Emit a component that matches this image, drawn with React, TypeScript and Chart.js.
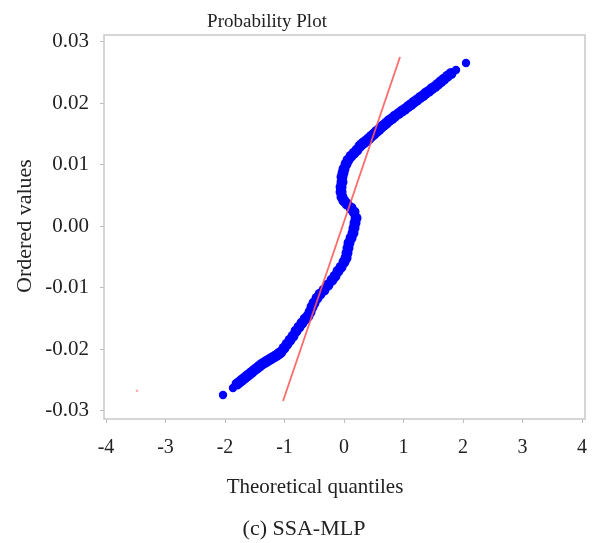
import React, { useEffect, useRef } from "react";
import { Chart, registerables } from "chart.js";

Chart.register(...registerables);

// Ordered values vs theoretical quantiles
const QX = [
  -2.034, -1.866, -1.798, -1.756, -1.714, -1.672, -1.63, -1.588, -1.546,
  -1.504, -1.462, -1.42, -1.378, -1.336, -1.294, -1.252, -1.21, -1.168, -1.126,
  -1.092, -1.059, -1.008, -0.958, -0.908, -0.857, -0.807, -0.756, -0.706, -0.655,
  -0.605, -0.571, -0.538, -0.504, -0.454, -0.403, -0.336, -0.269, -0.202, -0.151,
  -0.101, -0.05, 0.0, 0.034, 0.05, 0.067, 0.084, 0.118, 0.151, 0.168,
  0.185, 0.202, 0.168, 0.118, 0.05, 0.0, -0.034, -0.05, -0.05, -0.034,
  -0.034, -0.017, 0.0, 0.034, 0.067, 0.118, 0.168, 0.218, 0.269, 0.303,
  0.336, 0.378, 0.42, 0.462, 0.504, 0.546, 0.588, 0.63, 0.672, 0.714,
  0.756, 0.807, 0.857, 0.916, 0.975, 1.025, 1.076, 1.126, 1.176, 1.227,
  1.277, 1.328, 1.378, 1.429, 1.479, 1.529, 1.58, 1.63, 1.681, 1.74,
  1.798, 1.882, 2.05,
];
const QY = [
  -0.02748, -0.02634, -0.02569, -0.02537, -0.02504, -0.02472, -0.02439, -0.02407, -0.02374,
  -0.02341, -0.02309, -0.02276, -0.02244, -0.0222, -0.02195, -0.02171, -0.02146, -0.02122, -0.02098,
  -0.02073, -0.02049, -0.01984, -0.01919, -0.01854, -0.01789, -0.01707, -0.01642, -0.01577, -0.01512,
  -0.01463, -0.01398, -0.01317, -0.01252, -0.01171, -0.01106, -0.01041, -0.00959, -0.00878, -0.00813,
  -0.00732, -0.00667, -0.00585, -0.0052, -0.00439, -0.00358, -0.00276, -0.00195, -0.00114, -0.00033,
  0.00049, 0.0013, 0.00228, 0.00293, 0.00358, 0.00407, 0.00472, 0.00553, 0.00634, 0.00715,
  0.00797, 0.00862, 0.00927, 0.01008, 0.01073, 0.01138, 0.01187, 0.01236, 0.01301, 0.01333,
  0.01358, 0.0139, 0.01423, 0.01463, 0.01496, 0.01537, 0.01569, 0.0161, 0.01642, 0.01675,
  0.01715, 0.01748, 0.01789, 0.01829, 0.0187, 0.01902, 0.01943, 0.01976, 0.02016, 0.02049,
  0.02089, 0.02122, 0.02163, 0.02195, 0.02236, 0.02268, 0.02309, 0.0235, 0.0239, 0.02439,
  0.0248, 0.02537, 0.0265,
];

// Least-squares fit line end points
const FIT_X = [-1.025, 0.941];
const FIT_Y = [-0.02846, 0.02748];

// Stray tiny red mark
const STRAY_X = [-3.48];
const STRAY_Y = [-0.0268];

const X_TICKS = [-4, -3, -2, -1, 0, 1, 2, 3, 4];
const X_TICK_LABELS = ["-4", "-3", "-2", "-1", "0", "1", "2", "3", "4"];
const Y_TICKS = [-0.03, -0.02, -0.01, 0, 0.01, 0.02, 0.03];
const Y_TICK_LABELS = ["-0.03", "-0.02", "-0.01", "0.00", "0.01", "0.02", "0.03"];

const TITLE = "Probability Plot";
const X_TITLE = "Theoretical quantiles";
const Y_TITLE = "Ordered values";
const CAPTION = "(c) SSA-MLP";

const SERIF = '"Liberation Serif", "Times New Roman", serif';

export default function App() {
  const ref = useRef<HTMLCanvasElement | null>(null);

  useEffect(() => {
    if (!ref.current) return;

    const textPlugin = {
      id: "texts",
      afterDraw(chart: any) {
        const { ctx, chartArea } = chart;
        ctx.save();
        ctx.strokeStyle = "#c9c9c9";
        ctx.lineWidth = 1.5;
        ctx.strokeRect(
          chartArea.left,
          chartArea.top,
          chartArea.right - chartArea.left,
          chartArea.bottom - chartArea.top
        );
        ctx.fillStyle = "#222";
        ctx.textAlign = "center";
        ctx.textBaseline = "alphabetic";
        ctx.font = `19px ${SERIF}`;
        ctx.fillText(TITLE, 267, 27);
        ctx.font = `21px ${SERIF}`;
        ctx.fillText(X_TITLE, 315, 493);
        ctx.font = `22px ${SERIF}`;
        ctx.fillText(CAPTION, 304, 535);
        ctx.translate(25, 226);
        ctx.rotate(-Math.PI / 2);
        ctx.textBaseline = "middle";
        ctx.font = `22px ${SERIF}`;
        ctx.fillText(Y_TITLE, 0, 0);
        ctx.restore();
      },
    };

    const lastIdx = QX.length - 1;

    const chart = new Chart(ref.current, {
      type: "scatter",
      data: {
        datasets: [
          {
            label: "fit",
            type: "line",
            data: FIT_X.map((x, i) => ({ x, y: FIT_Y[i] })),
            borderColor: "rgba(255,90,90,0.9)",
            borderWidth: 1.8,
            pointRadius: 0,
            fill: false,
            order: 0,
          },
          {
            label: "stray",
            data: STRAY_X.map((x, i) => ({ x, y: STRAY_Y[i] })),
            backgroundColor: "rgba(255,60,60,0.45)",
            borderWidth: 0,
            pointRadius: 1.3,
            order: 1,
          },
          {
            label: "ordered",
            data: QX.map((x, i) => ({ x, y: QY[i] })),
            backgroundColor: "#0000ff",
            borderColor: "#0000ff",
            borderWidth: 0,
            pointRadius: (c: any) =>
              c.dataIndex <= 1 || c.dataIndex >= lastIdx - 1 ? 4.2 : 5.5,
            order: 2,
          },
        ],
      },
      options: {
        animation: false,
        responsive: false,
        maintainAspectRatio: false,
        layout: { padding: { top: 35, right: 29, left: 0, bottom: 0 } },
        plugins: {
          legend: { display: false },
          title: { display: false },
          tooltip: { enabled: false },
        },
        scales: {
          x: {
            type: "linear",
            min: -4.034,
            max: 4.05,
            afterFit(scale: any) {
              scale.height = 124;
            },
            afterBuildTicks(scale: any) {
              scale.ticks = X_TICKS.map((v) => ({ value: v }));
            },
            ticks: {
              padding: 13,
              color: "#222",
              font: { family: SERIF, size: 20 },
              callback: (v: any) => {
                const i = X_TICKS.indexOf(Number(v));
                return i >= 0 ? X_TICK_LABELS[i] : "";
              },
            },
            grid: {
              drawOnChartArea: false,
              drawTicks: true,
              tickLength: 4,
              color: "#bdbdbd",
            },
            border: { display: false },
          },
          y: {
            type: "linear",
            min: -0.03138,
            max: 0.03106,
            afterFit(scale: any) {
              scale.width = 104;
            },
            afterBuildTicks(scale: any) {
              scale.ticks = Y_TICKS.map((v) => ({ value: v }));
            },
            ticks: {
              padding: 11,
              color: "#222",
              font: { family: SERIF, size: 21 },
              callback: (v: any) => {
                const n = Number(v);
                const i = Y_TICKS.findIndex((t) => Math.abs(t - n) < 1e-9);
                return i >= 0 ? Y_TICK_LABELS[i] : "";
              },
            },
            grid: {
              drawOnChartArea: false,
              drawTicks: true,
              tickLength: 4,
              color: "#bdbdbd",
            },
            border: { display: false },
          },
        },
      },
      plugins: [textPlugin],
    });

    return () => chart.destroy();
  }, []);

  return (
    <div
      style={{
        position: "fixed",
        left: 0,
        top: 0,
        width: 614,
        height: 543,
        background: "#fff",
      }}
    >
      <canvas ref={ref} width={614} height={543} style={{ width: 614, height: 543 }} />
    </div>
  );
}
